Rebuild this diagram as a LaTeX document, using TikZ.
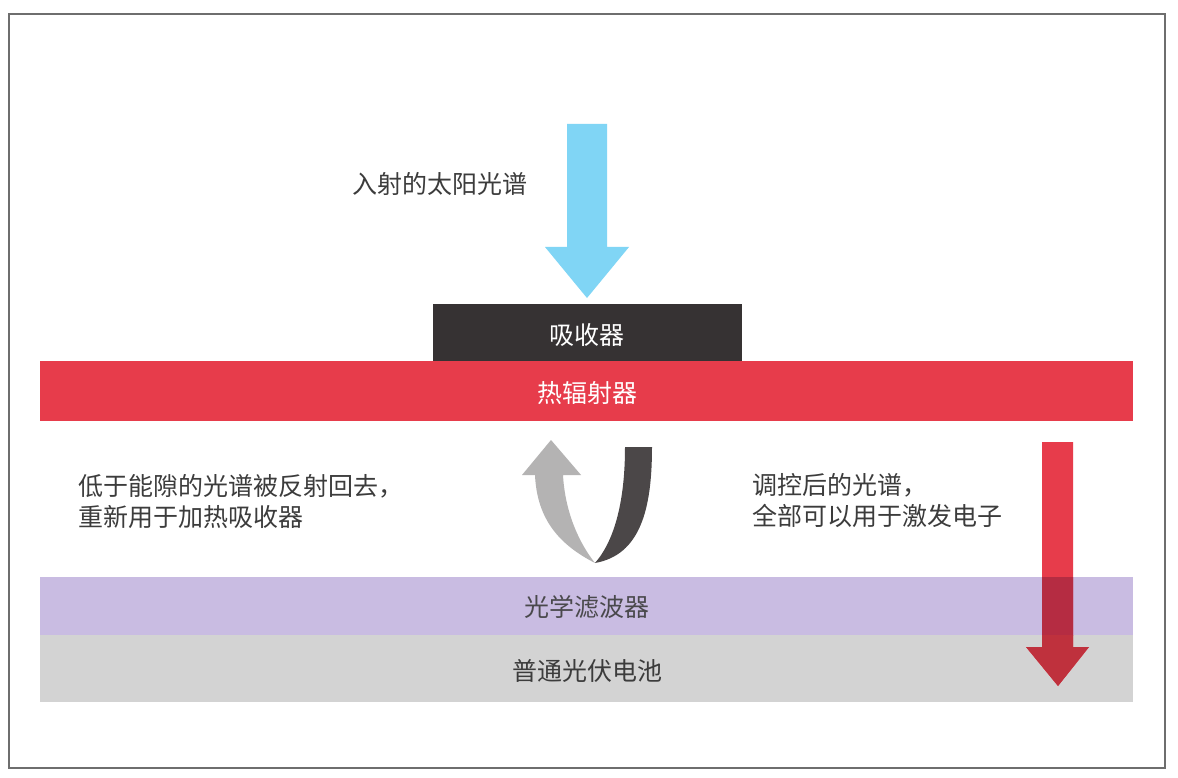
\documentclass[tikz,border=0pt]{standalone}
\usepackage{fontspec}
\newfontfamily\cjk{Noto Sans CJK SC}
\definecolor{frameC}{HTML}{6E6E6E}
\definecolor{blueC}{HTML}{80D5F5}
\definecolor{absC}{HTML}{363233}
\definecolor{redC}{HTML}{E73C4B}
\definecolor{purC}{HTML}{C9BCE2}
\definecolor{grayC}{HTML}{D3D3D3}
\definecolor{lgC}{HTML}{B4B3B3}
\definecolor{dkC}{HTML}{4B4748}
\definecolor{txtC}{HTML}{3C3C3C}
\definecolor{redPur}{HTML}{B52C42}
\definecolor{redGray}{HTML}{BF313D}
\tikzset{
  lbl/.style={font=\cjk\fontsize{25}{31}\selectfont, text=txtC, inner sep=0pt, align=left},
  bandtxt/.style={font=\cjk\fontsize{25}{31}\selectfont, inner sep=0pt},
  band/.style={draw=none, inner sep=0pt, minimum height=#1}
}
\begin{document}
\begin{tikzpicture}[x=1pt,y=-1pt]
\useasboundingbox (0,0) rectangle (1178,778);
\fill[white] (0,0) rectangle (1178,778);
\draw[frameC, line width=1.5pt] (9,14) rectangle (1165,768);

% bands
\fill[absC] (433,304) rectangle (742,361);
\fill[redC] (40,361) rectangle (1133,421);
\fill[purC] (40,577) rectangle (1133,635);
\fill[grayC] (40,635) rectangle (1133,702);

\node[bandtxt, text=white] (absorber) at (587,335) {吸收器};
\node[bandtxt, text=white] (emitter) at (587,393) {热辐射器};
\node[bandtxt, text=txtC!90!purC] (filter) at (587,607) {光学滤波器};
\node[bandtxt, text=txtC] (cell) at (587,671) {普通光伏电池};

% incoming blue arrow
\coordinate (bTop) at (587,124);
\coordinate (bTip) at (587,298);
\fill[blueC] (567,124) -- (607,124) -- (607,247) -- (629,247) -- (bTip) -- (545,247) -- (567,247) -- cycle;
\node[lbl, anchor=west] (sun) at (352,184) {入射的太阳光谱};

% curved arrows
\coordinate (vBot) at (595,563);
\fill[lgC] (vBot) .. controls (560,545) and (537,520) .. (535,475) -- (522,475) -- (551,440) -- (581,475) -- (563,475) .. controls (565,512) and (579,543) .. (vBot) -- cycle;
\fill[dkC] (vBot) .. controls (615,540) and (625,500) .. (625,447) -- (652,447) .. controls (652,510) and (640,555) .. (vBot) -- cycle;

\node[lbl, anchor=west] (left) at (78,502) {低于能隙的光谱被反射回去，\\重新用于加热吸收器};
\node[lbl, anchor=west] (right) at (752,501) {调控后的光谱，\\全部可以用于激发电子};

% red arrow
\def\redarrow{(1042,442) -- (1073,442) -- (1073,647) -- (1089,647) -- (1058,686) -- (1026,647) -- (1042,647) -- cycle}
\fill[redC] \redarrow;
\begin{scope}
\clip (40,577) rectangle (1133,635);
\fill[redPur] \redarrow;
\end{scope}
\begin{scope}
\clip (40,635) rectangle (1133,702);
\fill[redGray] \redarrow;
\end{scope}
\end{tikzpicture}
\end{document}
